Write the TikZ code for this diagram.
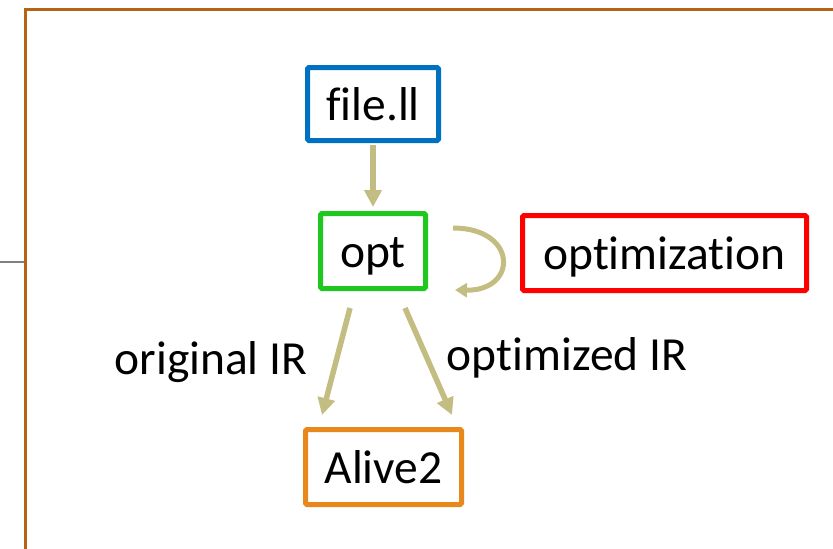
\documentclass[tikz,border=0pt]{standalone}
\usepackage{fontspec}
\setmainfont[Ligatures = NoCommon, RawFeature = -calt, RawFeature = -dlig]{Carlito}
\usetikzlibrary{arrows.meta}

\definecolor{frameBrown}{RGB}{180,100,20}
\definecolor{flowKhaki}{RGB}{196,189,130}
\definecolor{boxBlue}{RGB}{0,112,192}
\definecolor{boxGreen}{RGB}{30,200,30}
\definecolor{boxRed}{RGB}{255,0,0}
\definecolor{boxOrange}{RGB}{232,135,26}

\begin{document}
\begin{tikzpicture}[x=1pt, y=-1pt,
		stage/.style = {draw, line width = 5pt, rounded corners = 1.5pt, inner sep = 0pt,
			minimum height = 75pt, text height = 38pt, text depth = 6pt,
			font = \fontsize{47.5}{56}\selectfont},
		flow/.style = {draw = flowKhaki, line width = 5.5pt,
			-{Triangle[width = 17pt, length = 17pt]}},
		note/.style = {font = \fontsize{47.5}{56}\selectfont, inner sep = 0pt}]
			\useasboundingbox (0,0) rectangle (833,549);
			\clip (0,0) rectangle (833,549);

			\begin{scope}
				\draw [frameBrown, line width = 3pt] (25,9) rectangle (860,580);
				\draw [gray, line width = 1.2pt] (0,262) -- (24,262);
			\end{scope}

			\begin{scope}
				\node [stage, draw = boxBlue, minimum width = 131pt, minimum height = 73pt] (file) at (373,104) {file.ll};
				\node [stage, draw = boxGreen, minimum width = 105pt] (opt) at (373,251) {opt};
				\node [stage, draw = boxRed, minimum width = 284pt] (optim) at (664.5,253) {optimization};
				\node [stage, draw = boxOrange, minimum width = 156pt] (alive) at (383.5,467) {Alive2};
			\end{scope}

			\begin{scope}
				\draw [flow] ([yshift = -2pt]file.south) -- ([yshift = 4pt]opt.north);
				\draw [flow] ([xshift = -23pt, yshift = -17pt]opt.south) -- ([xshift = -61.5pt, yshift = 12pt]alive.north);
				\draw [flow] ([xshift = 32pt, yshift = -17pt]opt.south) -- ([xshift = 68.5pt, yshift = 12pt]alive.north);

				\coordinate (loopIn) at ([xshift = 25pt, yshift = -17pt]opt.north east);
				\coordinate (loopOut) at ([xshift = 27pt, yshift = 1pt]opt.south east);
				\draw [draw = flowKhaki, line width = 5pt, -{Triangle[width = 14pt, length = 12pt]}]
					(loopIn) .. controls (518,228) and (518,291) .. (loopOut);
			\end{scope}

			\begin{scope}
				\node [note] (origLabel) at (211,362) {original IR};
				\node [note] (optLabel) at (567,358) {optimized IR};
			\end{scope}
		\end{tikzpicture}
\end{document}
